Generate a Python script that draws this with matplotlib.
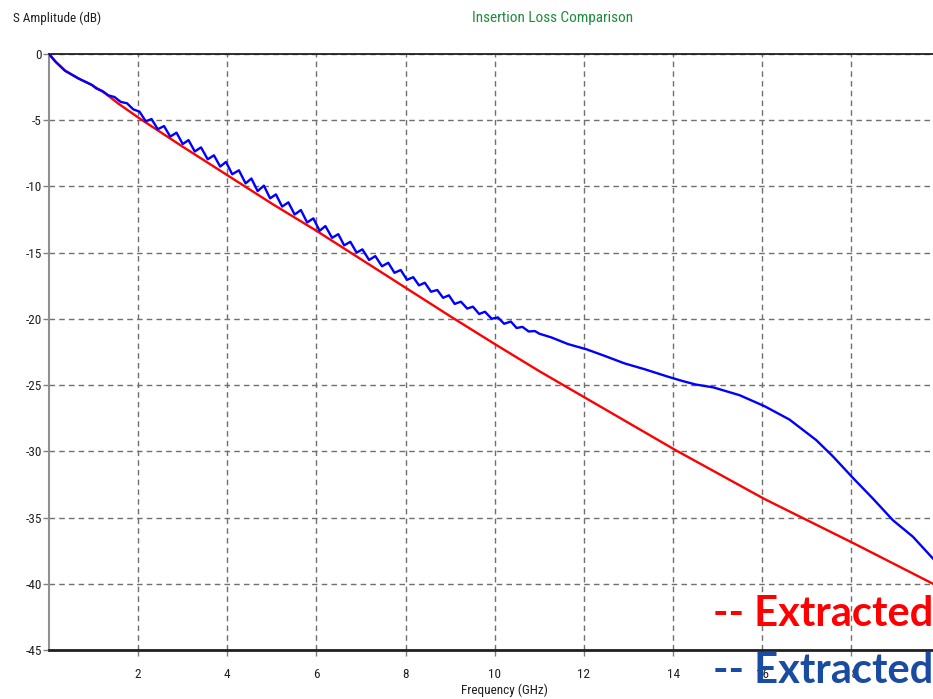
import matplotlib
matplotlib.use("Agg")
import matplotlib.pyplot as plt
from matplotlib import font_manager

# data (GHz, dB)
red_freq = [0.0, 0.15, 0.36, 0.66, 0.96, 1.26, 1.55, 2.03, 3.0, 4.0, 5.0, 6.0,
            7.0, 8.0, 9.0, 10.0, 11.0, 11.64, 12.0, 14.05, 16.05, 18.06, 19.83]
red_db = [0.0, -0.58, -1.25, -1.84, -2.34, -2.97, -3.73, -4.86, -7.0, -9.15,
          -11.3, -13.35, -15.5, -17.65, -19.8, -21.9, -23.95, -25.2, -25.9,
          -29.9, -33.6, -36.96, -40.0]

blue_freq = [0.0, 0.15, 0.36, 0.66, 0.96, 1.06, 1.20, 1.33, 1.47, 1.61, 1.75, 1.89,
             2.03, 2.17, 2.30, 2.44, 2.58, 2.72, 2.86, 3.00, 3.13, 3.27, 3.41, 3.56,
             3.70, 3.84, 3.97, 4.11, 4.26, 4.41, 4.54, 4.68, 4.82, 4.96, 5.09, 5.23,
             5.37, 5.51, 5.65, 5.79, 5.93, 6.07, 6.20, 6.35, 6.49, 6.62, 6.76, 6.90,
             7.03, 7.18, 7.32, 7.47, 7.61, 7.75, 7.89, 8.03, 8.17, 8.30, 8.43, 8.57,
             8.71, 8.84, 8.97, 9.10, 9.24, 9.38, 9.51, 9.65, 9.78, 9.93, 10.07, 10.21,
             10.36, 10.49, 10.62, 10.76, 10.90, 11.0, 11.27, 11.64, 12.06, 12.47,
             12.91, 13.36, 13.89, 14.2, 14.5, 14.9, 15.49, 16.05, 16.61, 17.21,
             17.59, 18.06, 18.48, 18.93, 19.38, 19.83]
blue_db = [0.0, -0.6, -1.27, -1.85, -2.33, -2.6, -2.8, -3.12, -3.25, -3.62, -3.72, -4.18,
           -4.35, -5.08, -4.91, -5.68, -5.44, -6.24, -5.94, -6.8, -6.5, -7.36, -7.05, -7.95,
           -7.65, -8.5, -8.15, -9.08, -8.78, -9.77, -9.4, -10.35, -9.94, -10.9, -10.6, -11.52,
           -11.2, -12.12, -11.78, -12.72, -12.41, -13.35, -12.99, -13.88, -13.6, -14.45, -14.18, -15.0,
           -14.75, -15.55, -15.26, -16.03, -15.76, -16.52, -16.31, -17.05, -16.85, -17.47, -17.27, -17.95,
           -17.82, -18.41, -18.22, -18.87, -18.7, -19.22, -19.08, -19.63, -19.46, -19.99, -19.89, -20.37,
           -20.2, -20.69, -20.6, -20.95, -20.92, -21.12, -21.4, -21.9, -22.3, -22.8,
           -23.36, -23.8, -24.37, -24.68, -24.95, -25.17, -25.76, -26.59, -27.6, -29.15,
           -30.4, -32.1, -33.56, -35.2, -36.45, -38.1]

x_ticks = [2, 4, 6, 8, 10, 12, 14, 16, 18]
y_ticks = [0, -5, -10, -15, -20, -25, -30, -35, -40, -45]

# pick a condensed face if there is one, the scope fonts are narrow
installed = {f.name for f in font_manager.fontManager.ttflist}
narrow = 'Liberation Sans'
for name in ['Liberation Sans Narrow', 'DejaVu Sans Condensed', 'Roboto Condensed',
             'Open Sans Condensed', 'Noto Sans Condensed']:
    if name in installed:
        narrow = name
        break
plt.rcParams['font.family'] = [narrow, 'DejaVu Sans']
plt.rcParams['axes.unicode_minus'] = False

fig = plt.figure(figsize=(9.33, 6.99), dpi=100)
ax = fig.add_axes([49 / 933, 1 - 650 / 699, 1 - 49 / 933, 596 / 699])

ax.plot(red_freq, red_db, color='#ff0000', lw=1.7, zorder=3)
ax.plot(blue_freq, blue_db, color='#0000ff', lw=1.7, zorder=4)

ax.set_xlim(0, 19.83)
ax.set_ylim(-45, 0)
ax.set_xticks(x_ticks)
ax.set_yticks(y_ticks)
ax.grid(True, color='#707070', ls=(0, (4, 3)), lw=1.0)
ax.tick_params(axis='both', length=4, color='#808080', labelsize=9.5, width=1,
               labelcolor='#202020')
ax.tick_params(axis='x', pad=9)
ax.tick_params(axis='y', pad=1)

ax.spines['right'].set_visible(False)
ax.spines['top'].set_color('#202020')
ax.spines['top'].set_linewidth(1.3)
ax.spines['bottom'].set_color('#202020')
ax.spines['bottom'].set_linewidth(2.0)
ax.spines['left'].set_color('#909090')
ax.spines['left'].set_linewidth(1.5)

fig.text(13 / 933, 1 - 18 / 699, 'S Amplitude (dB)', fontsize=9.5, va='center', ha='left',
         color='#202020')
fig.text(553 / 933, 1 - 18 / 699, 'Insertion Loss Comparison', fontsize=11, va='center',
         ha='center', color='#1e8c3c')
fig.text(504 / 933, 1 - 690 / 699, 'Frequency (GHz)', fontsize=9.5, va='center', ha='center',
         color='#202020')

fig.text(1.0, 1 - 614 / 699, '-- Extracted', fontsize=30, fontweight='bold', color='#ff0000',
         family=['Lato', 'DejaVu Sans'], ha='right', va='center')
fig.text(1.0, 1 - 671 / 699, '-- Extracted', fontsize=30, fontweight='bold', color='#1a4ba3',
         family=['Lato', 'DejaVu Sans'], ha='right', va='center')

fig.savefig('out.png', dpi=100)
